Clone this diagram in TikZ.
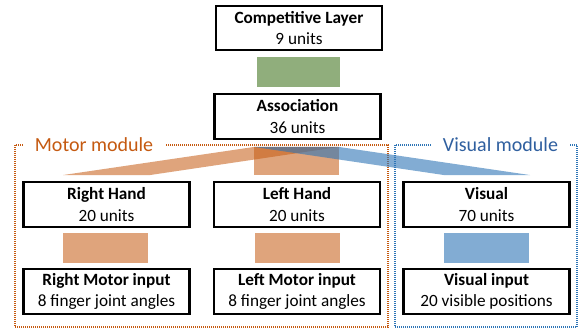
\documentclass[tikz,border=0pt]{standalone}
\usepackage{fontspec}
\setmainfont{Carlito}
\usetikzlibrary{calc}
\definecolor{morange}{HTML}{C55A11}
\definecolor{mblue}{HTML}{2E75B6}
\definecolor{mgreen}{HTML}{548235}
\definecolor{morangetxt}{HTML}{C55A11}
\definecolor{mbluetxt}{HTML}{2F5F9F}
\begin{document}
\begin{tikzpicture}[x=1pt,y=-1pt,
  layer/.style={draw=black, line width=2.4pt, fill=white, minimum width=166pt,
    minimum height=44.5pt, align=center, inner sep=0pt,
    font=\fontsize{17.2}{21.5}\selectfont},
  orangeband/.style={fill=morange, fill opacity=0.55},
  blueband/.style={fill=mblue, fill opacity=0.6},
  greenband/.style={fill=mgreen, fill opacity=0.65},
  motorframe/.style={draw=morange, dash pattern=on 1pt off 1pt, line width=1.2pt},
  visualframe/.style={draw=mblue, dash pattern=on 1pt off 1pt, line width=1.2pt},
  modlabel/.style={fill=white, inner xsep=12pt, inner ysep=2pt, font=\fontsize{20}{22}\selectfont}
]
\useasboundingbox (0,0) rectangle (580,331);

% module frames
\draw[motorframe] (15,145) rectangle (388,327);
\draw[visualframe] (395,145) rectangle (577,327);
\node[modlabel, text=morangetxt] (mlab) at (94,145) {Motor module};
\node[modlabel, text=mbluetxt] (vlab) at (500.5,145) {Visual module};

% layers
\node[layer] (comp) at (299,28) {\textbf{Competitive Layer}\\9 units};
\node[layer] (assoc) at (297.5,116.5) {\textbf{Association}\\36 units};
\node[layer] (rhand) at (106.5,204.5) {\textbf{Right Hand}\\20 units};
\node[layer] (lhand) at (297,204.5) {\textbf{Left Hand}\\20 units};
\node[layer] (vis) at (486.5,204.5) {\textbf{Visual}\\70 units};
\node[layer] (rmot) at (106.5,291.5) {\textbf{Right Motor input}\\8 finger joint angles};
\node[layer] (lmot) at (297,291.5) {\textbf{Left Motor input}\\8 finger joint angles};
\node[layer] (visin) at (486.5,291.5) {\textbf{Visual input}\\20 visible positions};

% connectors
\fill[greenband] ($(comp.south)+(-42.5,6)$) rectangle ($(assoc.north)+(42.5,-6)$);
\fill[orangeband] ($(assoc.south)+(-43.5,7)$) rectangle ($(lhand.north)+(42,-6)$);
\fill[orangeband] ($(assoc.south)+(-43.5,7)$) -- ($(assoc.south)+(41.5,7)$)
  -- ($(rhand.north)+(43.5,-6)$) -- ($(rhand.north)+(-43.5,-6)$) -- cycle;
\fill[blueband] ($(assoc.south)+(-43.5,7)$) -- ($(assoc.south)+(41.5,7)$)
  -- ($(vis.north)+(43.5,-6)$) -- ($(vis.north)+(-42.5,-6)$) -- cycle;
\fill[orangeband] ($(rhand.south)+(-43.5,5)$) rectangle ($(rmot.north)+(41.5,-5)$);
\fill[orangeband] ($(lhand.south)+(-42,5)$) rectangle ($(lmot.north)+(43,-5)$);
\fill[blueband] ($(vis.south)+(-42.5,5)$) rectangle ($(visin.north)+(42.5,-5)$);
\end{tikzpicture}
\end{document}
